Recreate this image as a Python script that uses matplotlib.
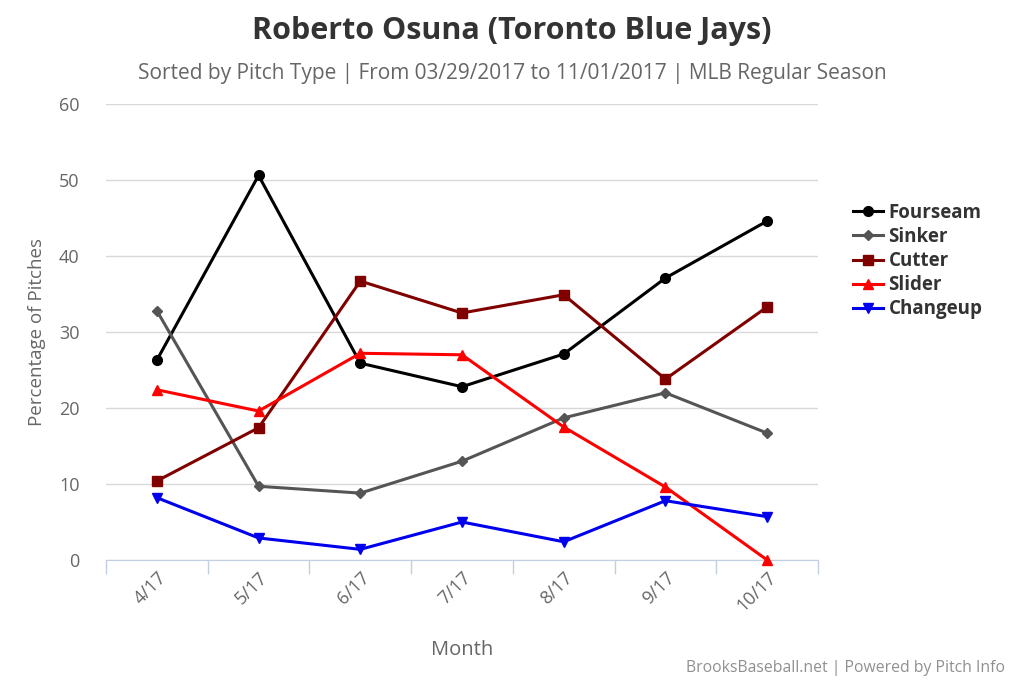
import matplotlib.pyplot as plt

plt.rcParams['font.family'] = ['Open Sans', 'DejaVu Sans']

months = ["4/17", "5/17", "6/17", "7/17", "8/17", "9/17", "10/17"]
fourseam = [26.3, 50.6, 25.9, 22.8, 27.1, 37.1, 44.6]
sinker = [32.8, 9.7, 8.8, 13.0, 18.7, 22.0, 16.7]
cutter = [10.4, 17.4, 36.7, 32.5, 34.9, 23.8, 33.3]
slider = [22.4, 19.6, 27.2, 27.0, 17.5, 9.6, 0.0]
changeup = [8.2, 2.9, 1.4, 5.0, 2.4, 7.8, 5.7]

series = [
    ("Fourseam", fourseam, "#000000", "o", 7),
    ("Sinker", sinker, "#555555", "D", 5),
    ("Cutter", cutter, "#800000", "s", 7),
    ("Slider", slider, "#ff0000", "^", 7),
    ("Changeup", changeup, "#0000ee", "v", 7),
]

fig = plt.figure(figsize=(10.24, 6.83), dpi=100, facecolor="white")
ax = fig.add_axes([106/1024, 1 - 560/683, 712/1024, 456/683])

x = list(range(len(months)))
handles = []
for name, vals, col, mk, ms in series:
    h, = ax.plot(x, vals, color=col, lw=2.2, marker=mk, markersize=ms,
                 label=name, clip_on=False, zorder=3)
    handles.append(h)

ax.set_xlim(-0.5, len(months) - 0.5)
ax.set_ylim(0, 60)
ax.set_yticks(range(0, 61, 10))
ax.yaxis.grid(True, color="#d8d8d8", lw=1)
ax.set_axisbelow(True)
ax.tick_params(axis="y", length=0, pad=19, labelsize=13, labelcolor="#666666")

# category boundaries as ticks, labels at centers
ax.set_xticks([i - 0.5 for i in range(len(months) + 1)])
ax.set_xticklabels([])
ax.tick_params(axis="x", which="major", length=10, color="#c0d0e0", width=1)
ax.set_xticks(x, minor=True)
ax.set_xticklabels(months, minor=True, rotation=45, ha="right",
                   rotation_mode="anchor", fontsize=13, color="#666666")
ax.tick_params(axis="x", which="minor", length=0, pad=6)

for s in ["top", "right", "left"]:
    ax.spines[s].set_visible(False)
ax.spines["bottom"].set_color("#c0d0e0")

ax.set_ylabel("Percentage of Pitches", fontsize=13.5, color="#666666", labelpad=9)
ax.set_xlabel("Month", fontsize=14.5, color="#666666", labelpad=18)

fig.text(512/1024, 1 - 31/683, "Roberto Osuna (Toronto Blue Jays)", ha="center",
         va="center", fontsize=22, fontweight="bold", color="#333333")
fig.text(512/1024, 1 - 73/683,
         "Sorted by Pitch Type | From 03/29/2017 to 11/01/2017 | MLB Regular Season",
         ha="center", va="center", fontsize=15, color="#666666")
fig.text(1005/1024, 1 - 668/683, "BrooksBaseball.net | Powered by Pitch Info",
         ha="right", va="center", fontsize=11.3, color="#909090")

leg = fig.legend(handles=handles, loc="upper left", bbox_to_anchor=(836/1024, 1 - 186/683),
                 frameon=False, fontsize=13.5, handlelength=1.6, labelspacing=0.22,
                 handletextpad=0.3)
for t in leg.get_texts():
    t.set_fontweight("bold")
    t.set_color("#333333")

fig.savefig("out.png", dpi=100, facecolor="white")
